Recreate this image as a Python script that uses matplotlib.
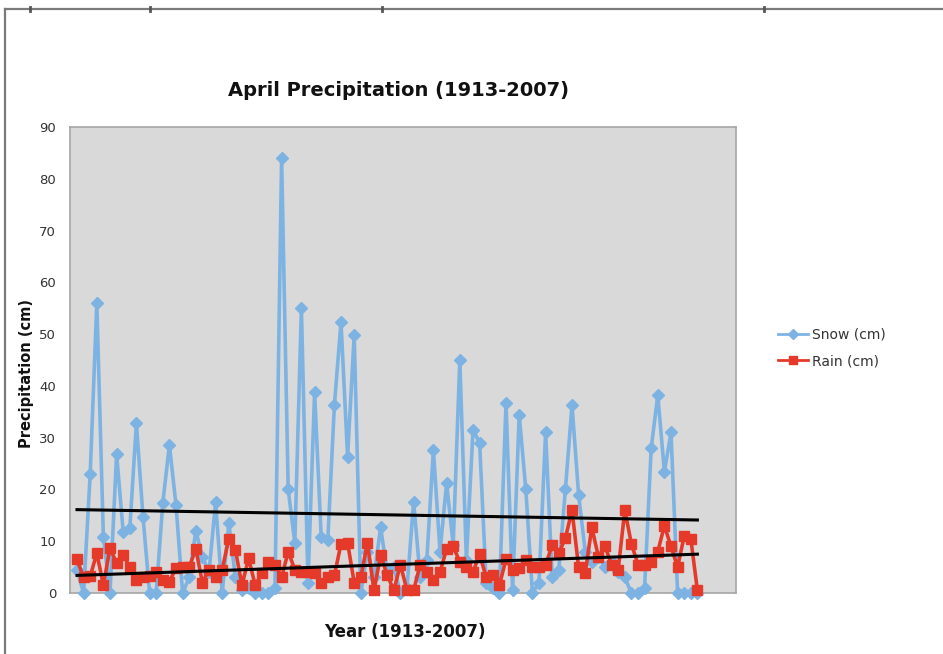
import numpy as np
import matplotlib
matplotlib.use("Agg")
import matplotlib.pyplot as plt
from matplotlib.lines import Line2D

years = list(range(1913, 2008))

snow_cm = [
    4.4, 0, 23, 56, 10.8, 0, 26.8, 11.8, 12.5, 32.8,
    14.7, 0, 0, 17.4, 28.6, 17, 0, 3, 12, 7,
    4, 17.5, 0, 13.5, 3, 0.5, 1, 0, 0, 0,
    1, 84, 20, 9.7, 55, 2, 38.8, 10.8, 10.2, 36.3,
    52.3, 26.3, 49.8, 0, 8, 3, 12.7, 4, 5, 0,
    1, 17.6, 3, 6.4, 27.6, 8, 21.2, 9.3, 45, 6.4,
    31.5, 29, 2, 1, 0, 36.7, 0.5, 34.4, 20, 0,
    2, 31, 3, 4.5, 20, 36.3, 19, 8, 6, 7,
    5, 6, 4, 3, 0, 0, 1, 28, 38.2, 23.4,
    31, 0, 0, 0, 0,
]

rain_cm = [
    6.5, 3, 3.2, 7.7, 1.5, 8.7, 5.8, 7.3, 5, 2.5,
    3, 3.2, 4, 2.5, 2.2, 4.8, 5, 5, 8.5, 2,
    4.5, 3, 4.5, 10.5, 8.3, 1.5, 6.7, 1.5, 3.8, 6,
    5.5, 3, 8, 4.5, 4, 4, 3.8, 2, 3, 3.4,
    9.5, 9.7, 2, 3, 9.7, 0.5, 7.3, 3.5, 0.5, 5.5,
    0.5, 0.5, 5.5, 4, 2.5, 4, 8.5, 9, 6, 5,
    4, 7.5, 3, 3.5, 1.5, 6.5, 4.5, 4.8, 6.4, 5,
    5, 5.4, 9.3, 7.7, 10.6, 16, 5, 3.8, 12.7, 7,
    9, 5.5, 4.5, 16, 9.5, 5.5, 5.5, 6, 8, 13,
    9, 5, 11, 10.5, 0.5,
]

# linear trend lines (start value 1913, end value 2007)
snow_trend = [16.1, 14.1]
rain_trend = [3.4, 7.5]

yticks = [0, 10, 20, 30, 40, 50, 60, 70, 80, 90]

W, H = 943, 654
fig = plt.figure(figsize=(W / 100, H / 100), dpi=100)
fig.patch.set_facecolor("white")

def fx(px):
    return px / W

def fy(py):
    return 1 - py / H

# outer frame (screenshot border)
fig.add_artist(Line2D([fx(5), fx(943)], [fy(9), fy(9)], color="#7a7a7a", lw=1.6))
fig.add_artist(Line2D([fx(5), fx(5)], [fy(9), fy(654)], color="#7a7a7a", lw=1.6))
for tx in [30, 150, 382, 764]:
    fig.add_artist(Line2D([fx(tx), fx(tx)], [fy(7), fy(11)], color="#555555", lw=2))

left, right, top, bottom = 70, 736, 127, 593
ax = fig.add_axes([fx(left), fy(bottom), fx(right) - fx(left), fy(top) - fy(bottom)])
ax.set_facecolor("#d9d9d9")
for s in ax.spines.values():
    s.set_color("#a6a6a6")
    s.set_linewidth(1.2)

x = np.arange(len(years))
x0, dx = 77, 6.6
ax.set_xlim((left - x0) / dx, (right - x0) / dx)
ax.set_ylim(0, 90)

snow_c = "#7db3e3"
rain_c = "#e53a2a"

ax.plot(x, snow_cm, color=snow_c, lw=2.6, marker="D", ms=6, mec=snow_c,
        mfc=snow_c, clip_on=False, zorder=3, label="Snow (cm)")
ax.plot(x, rain_cm, color=rain_c, lw=2.6, marker="s", ms=7, mec=rain_c,
        mfc=rain_c, clip_on=False, zorder=4, label="Rain (cm)")

ax.plot([x[0], x[-1]], snow_trend, color="black", lw=2.2, zorder=5)
ax.plot([x[0], x[-1]], rain_trend, color="black", lw=2.2, zorder=5)

ax.set_yticks(yticks)
ax.set_yticklabels([str(t) for t in yticks], fontsize=9.5, color="#333333")
ax.set_xticks([])
ax.tick_params(axis="y", length=0, pad=10)

fig.text(fx(398), fy(90), "April Precipitation (1913-2007)", ha="center", va="center",
         fontsize=14, fontweight="bold", color="#111111")
fig.text(fx(27), fy(373), "Precipitation (cm)", ha="center", va="center", rotation=90,
         fontsize=10.5, fontweight="bold", color="#111111")
fig.text(fx(405), fy(632), "Year (1913-2007)", ha="center", va="center",
         fontsize=12, fontweight="bold", color="#111111")

handles = [
    Line2D([], [], color=snow_c, lw=2, marker="D", ms=5, mec=snow_c, mfc=snow_c),
    Line2D([], [], color=rain_c, lw=2, marker="s", ms=6, mec=rain_c, mfc=rain_c),
]
fig.legend(handles, ["Snow (cm)", "Rain (cm)"], loc="center left",
           bbox_to_anchor=(fx(765), fy(348)), frameon=False, fontsize=10,
           handlelength=2.2, handletextpad=0.3, labelspacing=0.9,
           labelcolor="#333333")

fig.savefig("out.png", dpi=100, facecolor="white")
